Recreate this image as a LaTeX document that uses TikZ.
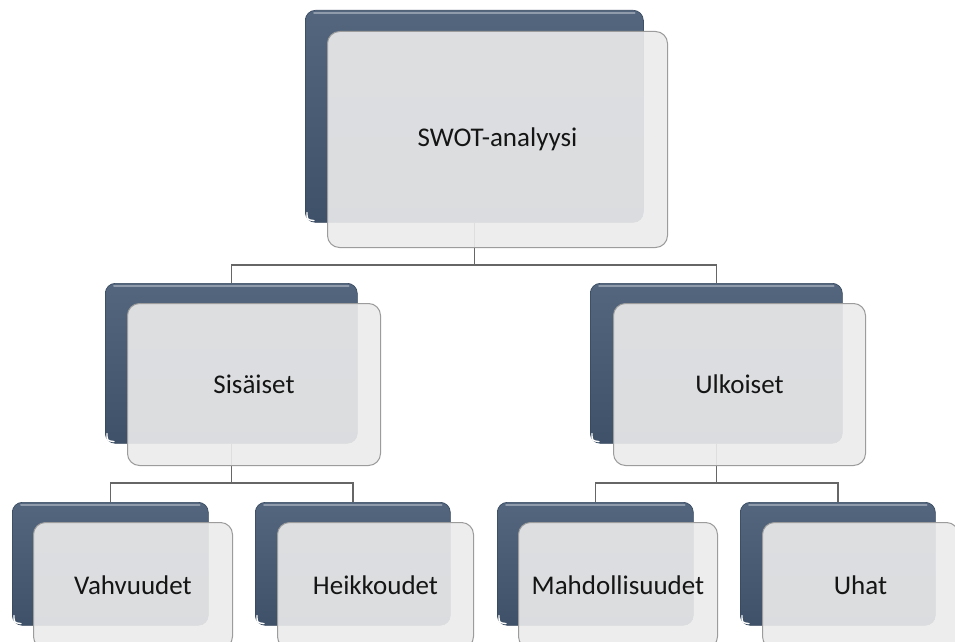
\documentclass[tikz,border=0pt]{standalone}
\usepackage{fontspec}
\setmainfont{Carlito}
\usetikzlibrary{calc}

\definecolor{backtop}{HTML}{53667E}
\definecolor{backbot}{HTML}{3E5169}
\definecolor{backedge}{HTML}{34465C}
\definecolor{frontfill}{HTML}{ECECEC}
\definecolor{frontedge}{HTML}{9C9C9C}
\definecolor{linkcol}{HTML}{666666}
\definecolor{textcol}{HTML}{151515}

\tikzset{
  back/.style={rectangle, rounded corners=10pt, draw=backedge, line width=0.6pt,
    top color=backtop, bottom color=backbot, anchor=north west, inner sep=0pt},
  front/.style={rectangle, rounded corners=12pt, draw=frontedge, line width=1pt,
    fill=frontfill, fill opacity=0.9, text opacity=1, anchor=north west,
    inner sep=0pt, text=textcol, font=\fontsize{27}{32}\selectfont},
  link/.style={draw=linkcol, line width=1.5pt},
  shine/.style={draw=white, draw opacity=0.35, line width=2pt, line cap=round},
  gleam/.style={draw=white, line width=1.4pt, line cap=round}
}

% back plate with its top highlight and corner gleam
\newcommand{\backplate}[5]{%
  \node[back, minimum width=#4pt, minimum height=#5pt] (#1) at (#2,#3) {};
  \draw[shine] ([xshift=9pt,yshift=-3pt]#1.north west) -- ([xshift=-9pt,yshift=-3pt]#1.north east);
  \draw[gleam] ([xshift=2pt,yshift=10pt]#1.south west) .. controls ([xshift=2pt,yshift=3pt]#1.south west) .. ([xshift=9pt,yshift=2pt]#1.south west);
}

\begin{document}
\begin{tikzpicture}[x=1pt, y=-1pt]
  \useasboundingbox (0,0) rectangle (955,642);
  \clip (0,0) rectangle (955,642);
  \fill[white] (0,0) rectangle (955,642);

  % back plates
  \backplate{topb}{305}{10}{338}{212}
  \backplate{sisb}{105}{283}{252}{160}
  \backplate{ulkb}{590}{283}{252}{160}
  \backplate{vahb}{12}{502}{196}{123}
  \backplate{heib}{255}{502}{195}{123}
  \backplate{mahb}{497}{502}{196}{123}
  \backplate{uhab}{740}{502}{195}{123}

  % junctions of the connectors
  \coordinate (j0) at (475,265);
  \coordinate (j1) at (233,483);
  \coordinate (j2) at (716,483);

  % connectors, drawn under the front cards
  \draw[link] (topb.south) -- (topb.south |- j0) -| (sisb.north);
  \draw[link] (topb.south |- j0) -| (ulkb.north);
  \draw[link] (sisb.south) -- (sisb.south |- j1) -| (vahb.north);
  \draw[link] (sisb.south |- j1) -| (heib.north);
  \draw[link] (ulkb.south) -- (ulkb.south |- j2) -| (mahb.north);
  \draw[link] (ulkb.south |- j2) -| (uhab.north);

  % front cards with the labels
  \node[front, minimum width=340pt, minimum height=216pt] (top) at (327,31) {SWOT-analyysi};
  \node[front, minimum width=253pt, minimum height=162pt] (sis) at (127,303) {Sisäiset};
  \node[front, minimum width=252pt, minimum height=162pt] (ulk) at (613,303) {Ulkoiset};
  \node[front, minimum width=199pt, minimum height=126pt] (vah) at (33,522) {Vahvuudet};
  \node[front, minimum width=196pt, minimum height=126pt] (hei) at (277,522) {Heikkoudet};
  \node[front, minimum width=199pt, minimum height=126pt] (mah) at (518,522) {Mahdollisuudet};
  \node[front, minimum width=196pt, minimum height=126pt] (uha) at (762,522) {Uhat};
\end{tikzpicture}
\end{document}
